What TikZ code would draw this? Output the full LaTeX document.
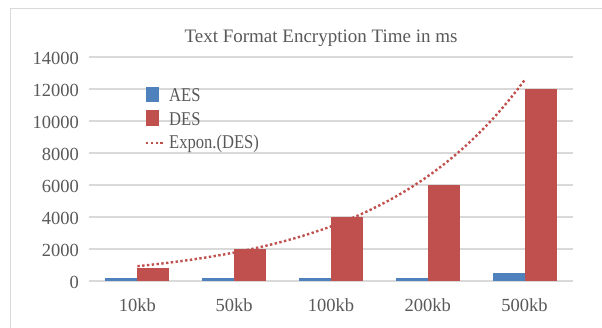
\documentclass[tikz,border=0pt]{standalone}
\usepackage{fontspec}
\setmainfont{Liberation Serif}
\newfontfamily\keyfont[FakeStretch=0.85]{Liberation Serif}
\definecolor{aesblue}{HTML}{4F81BD}
\definecolor{desred}{HTML}{C0504D}
\definecolor{gridgrey}{HTML}{D9D9D9}
\definecolor{labelgrey}{HTML}{595959}

\begin{document}
\begin{tikzpicture}[x=1pt,y=1pt]
  \tikzset{TickStyle/.style = {
  font = \fontsize{18.5}{20}\selectfont,
  text = labelgrey,
  inner sep = 0pt},
  KeyStyle/.style = {
  font = \keyfont\fontsize{19.5}{22}\selectfont,
  text = labelgrey,
  inner sep = 0pt},
  TrendStyle/.style = {
  desred,
  line width = 2.4pt,
  dash pattern = on 2.4pt off 2.4pt}}
  \useasboundingbox (-89,-46) rectangle (513,281);
  \draw[gridgrey, line width=1pt] (-78,-60) -- (-78,272) -- (530,272);
  \node[font=\fontsize{19}{22}\selectfont, text=labelgrey, anchor=base]
    (title) at (232,238) {Text Format Encryption Time in ms};
  % value axis
  \foreach \v [count=\i from 0] in {0,2000,...,14000} {
    \draw[gridgrey, line width=1.2pt] (0,\i*32) -- (484,\i*32);
    \node[TickStyle, anchor=east] (y\i) at (-10,\i*32-1) {\v};
  }
  % bars, one group per file size
  \begin{scope}[x=96.8pt, y=0.016pt]
    \foreach \lab/\aes/\des [count=\i] in
      {10kb/200/800, 50kb/200/2000, 100kb/200/4000, 200kb/200/6000, 500kb/500/12000} {
      \fill[aesblue] (\i-0.8306,0) rectangle (\i-0.5,\aes);
      \fill[desred] (\i-0.5,0) rectangle (\i-0.1694,\des);
      \node[TickStyle, anchor=base] (x\i) at ([yshift=-30pt]\i-0.5,0) {\lab};
    }
    \draw[TrendStyle] plot[domain=1:5, samples=60]
      ({\x-0.5}, {exp(6.1801+0.6515*\x)});
  \end{scope}
  % legend
  \fill[aesblue] (57,179) rectangle (70,194);
  \fill[desred] (57,155) rectangle (70,171);
  \draw[TrendStyle] (57,138) -- (74,138);
  \node[KeyStyle, anchor=base west] (aes) at (80,179) {AES};
  \node[KeyStyle, anchor=base west] (des) at (80,155) {DES};
  \node[KeyStyle, anchor=base west] (expon) at (80,133) {Expon.(DES)};
\end{tikzpicture}
\end{document}
